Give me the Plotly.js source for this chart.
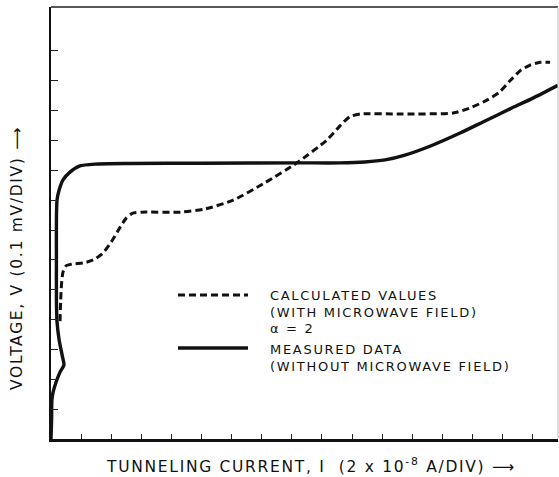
<!DOCTYPE html>
<html>
<head>
<meta charset="utf-8">
<script src="https://cdn.plot.ly/plotly-3.0.1.min.js"></script>
<style>
  html, body { margin: 0; padding: 0; background: #fff; }
  #chart { width: 559px; height: 477px; }
  .annotation-text { letter-spacing: 1.7px; }
</style>
</head>
<body>
<div id="chart"></div>
<script>
// Measured data (without microwave field): current (div), voltage (div)
const measuredI = [0, 0.02, 0.03, 0.07, 0.17, 0.3, 0.43, 0.37, 0.27, 0.2, 0.18, 0.18, 0.18, 0.2, 0.27, 0.4, 0.63, 0.96, 1.46, 2.62, 5.0, 8.27, 9.6, 10.43, 11.1, 11.76, 12.69, 13.59, 14.35, 15.25, 16.01, 16.84];
const measuredV = [0, 0.64, 1.31, 1.57, 1.91, 2.24, 2.48, 2.81, 3.32, 3.92, 4.66, 6.0, 7.34, 8.0, 8.34, 8.68, 8.94, 9.15, 9.21, 9.23, 9.24, 9.25, 9.25, 9.28, 9.35, 9.51, 9.85, 10.25, 10.62, 11.06, 11.42, 11.85];

// Calculated values (with microwave field), alpha = 2
const calcI = [0.3, 0.32, 0.35, 0.4, 0.5, 0.7, 1.1, 1.4, 1.7, 2.0, 2.3, 2.5, 2.7, 3.0, 4.3, 5.1, 6.05, 7.1, 8.17, 9.17, 9.6, 9.93, 10.3, 11.6, 13.36, 13.9, 14.5, 14.9, 15.25, 15.6, 15.9, 16.25, 16.58];
const calcV = [3.95, 4.6, 5.2, 5.6, 5.8, 5.86, 5.9, 6.0, 6.2, 6.6, 7.1, 7.4, 7.56, 7.6, 7.6, 7.7, 8.0, 8.58, 9.25, 10.02, 10.49, 10.8, 10.89, 10.89, 10.92, 11.08, 11.36, 11.62, 12.0, 12.35, 12.52, 12.62, 12.62];

const xTicks = [1, 2, 3, 4, 5, 6, 7, 8, 9, 10, 11, 12, 13, 14, 15, 16];
const yTicks = [1, 2, 3, 4, 5, 6, 7, 8, 9, 10, 11, 12, 13];

const legendLabels = ["CALCULATED VALUES", "(WITH MICROWAVE FIELD)", "\u03B1 = 2", "MEASURED DATA", "(WITHOUT MICROWAVE FIELD)"];
const xTitle = "TUNNELING CURRENT, I  (2 x 10<sup>-8</sup> A/DIV) \u27F6";
const yTitle = "VOLTAGE, V (0.1 mV/DIV) \u27F6";

const FONT = "DejaVu Sans, sans-serif";

const traces = [
  { x: calcI, y: calcV, mode: "lines", line: { color: "#111", width: 3, dash: "7px,4px", shape: "spline", smoothing: 0.6 }, hoverinfo: "skip" },
  { x: measuredI, y: measuredV, mode: "lines", line: { color: "#111", width: 3.4, shape: "spline", smoothing: 0.6 }, hoverinfo: "skip" }
];

// helpers to place legend in paper coords from plot px
const L = 51, T = 7, W = 507, H = 432;
const px = v => (v - L) / W;
const py = v => (T + H - v) / H;

const legendTextY = [296, 312, 328, 349, 366];
const annotations = legendLabels.map((t, i) => ({
  xref: "paper", yref: "paper", x: px(268), y: py(legendTextY[i]),
  xanchor: "left", yanchor: "middle", showarrow: false, text: t,
  font: { family: FONT, size: 13, color: "#111" }
}));
annotations.push({
  xref: "paper", yref: "paper", x: px(311), y: py(465), xanchor: "center", yanchor: "middle",
  showarrow: false, text: xTitle, font: { family: FONT, size: 15.5, color: "#111" }
});
annotations.push({
  xref: "paper", yref: "paper", x: px(17), y: py(258), xanchor: "center", yanchor: "middle",
  showarrow: false, textangle: -90, text: yTitle, font: { family: FONT, size: 15.5, color: "#111" }
});

const shapes = [
  { type: "line", xref: "paper", yref: "paper", x0: px(178), x1: px(248), y0: py(295), y1: py(295), line: { color: "#111", width: 3, dash: "7px,4px" } },
  { type: "line", xref: "paper", yref: "paper", x0: px(178), x1: px(248), y0: py(348), y1: py(348), line: { color: "#111", width: 3.4 } },
  { type: "line", xref: "paper", yref: "paper", x0: 0, x1: 1, y0: 1, y1: 1, line: { color: "#222", width: 1.5 } },
  { type: "line", xref: "paper", yref: "paper", x0: 1, x1: 1, y0: 0, y1: 1, line: { color: "#bbb", width: 1 } }
];

const layout = {
  width: 559, height: 477,
  margin: { l: L, r: 559 - L - W, t: T, b: 477 - T - H, pad: 0 },
  paper_bgcolor: "#fff", plot_bgcolor: "#fff",
  showlegend: false,
  xaxis: {
    range: [0, W / 30.1], showgrid: false, zeroline: false, showline: true, linecolor: "#111", linewidth: 2.5,
    ticks: "inside", ticklen: 5, tickwidth: 1, tickcolor: "#222", tickvals: xTicks, showticklabels: false, fixedrange: true
  },
  yaxis: {
    range: [0, H / 29.85], showgrid: false, zeroline: false, showline: true, linecolor: "#111", linewidth: 2.5,
    ticks: "inside", ticklen: 7, tickwidth: 1, tickcolor: "#222", tickvals: yTicks, showticklabels: false, fixedrange: true
  },
  annotations: annotations,
  shapes: shapes
};

Plotly.newPlot("chart", traces, layout, { staticPlot: true, displayModeBar: false });
</script>
</body>
</html>
